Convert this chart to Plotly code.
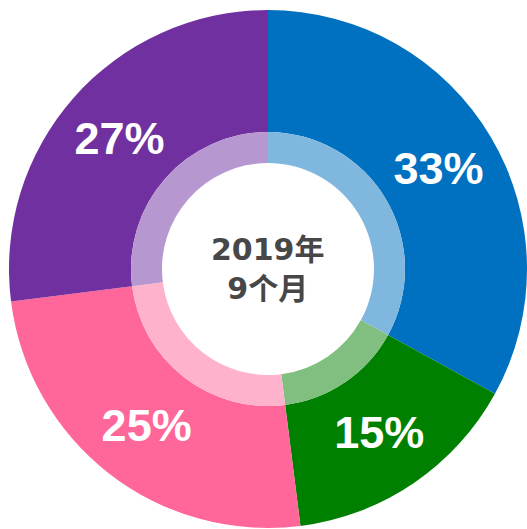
import plotly.graph_objects as go

categories = ["A", "B", "C", "D"]
values = [33, 15, 25, 27]
colors = ["#0070C0", "#008000", "#FF6699", "#7030A0"]
light_colors = ["#80B7DF", "#80BF80", "#FFB2CC", "#B797CF"]
center_text = "2019年<br>9个月"

W, H = 527, 529
cx, cy = 268, 269  # center in figure px
R_out, R_mid, R_hole = 259, 137, 106

def dom(r):
    x0 = (cx - r) / W
    x1 = (cx + r) / W
    yb = H - cy
    y0 = (yb - r) / H
    y1 = (yb + r) / H
    return dict(x=[max(0, x0), min(1, x1)], y=[max(0, y0), min(1, y1)])

fig = go.Figure()
fig.add_trace(go.Pie(
    labels=categories, values=values, sort=False, direction="clockwise", rotation=0,
    hole=R_mid / R_out,
    marker=dict(colors=colors, line=dict(width=0)),
    texttemplate="%{value}%", textposition="inside", insidetextorientation="horizontal",
    textfont=dict(family="Liberation Sans, Arial", size=45, color="white", weight="bold"),
    domain=dom(R_out), showlegend=False, hoverinfo="skip",
))
fig.add_trace(go.Pie(
    labels=categories, values=values, sort=False, direction="clockwise", rotation=0,
    hole=R_hole / R_mid,
    marker=dict(colors=light_colors, line=dict(width=0)),
    textinfo="none",
    domain=dom(R_mid), showlegend=False, hoverinfo="skip",
))
fig.add_annotation(
    text=center_text, x=cx / W, y=(H - cy) / H, xref="paper", yref="paper",
    showarrow=False, xanchor="center", yanchor="middle",
    font=dict(family="DejaVu Sans, Noto Sans CJK SC", size=30, color="#474747", weight="bold"),
)
fig.update_layout(
    width=W, height=H, margin=dict(l=0, r=0, t=0, b=0),
    paper_bgcolor="white", plot_bgcolor="white",
)
fig.write_html(
    "out.html",
    config={"displayModeBar": False},
    post_script="document.body.style.margin='0';document.body.style.overflow='hidden';",
)
